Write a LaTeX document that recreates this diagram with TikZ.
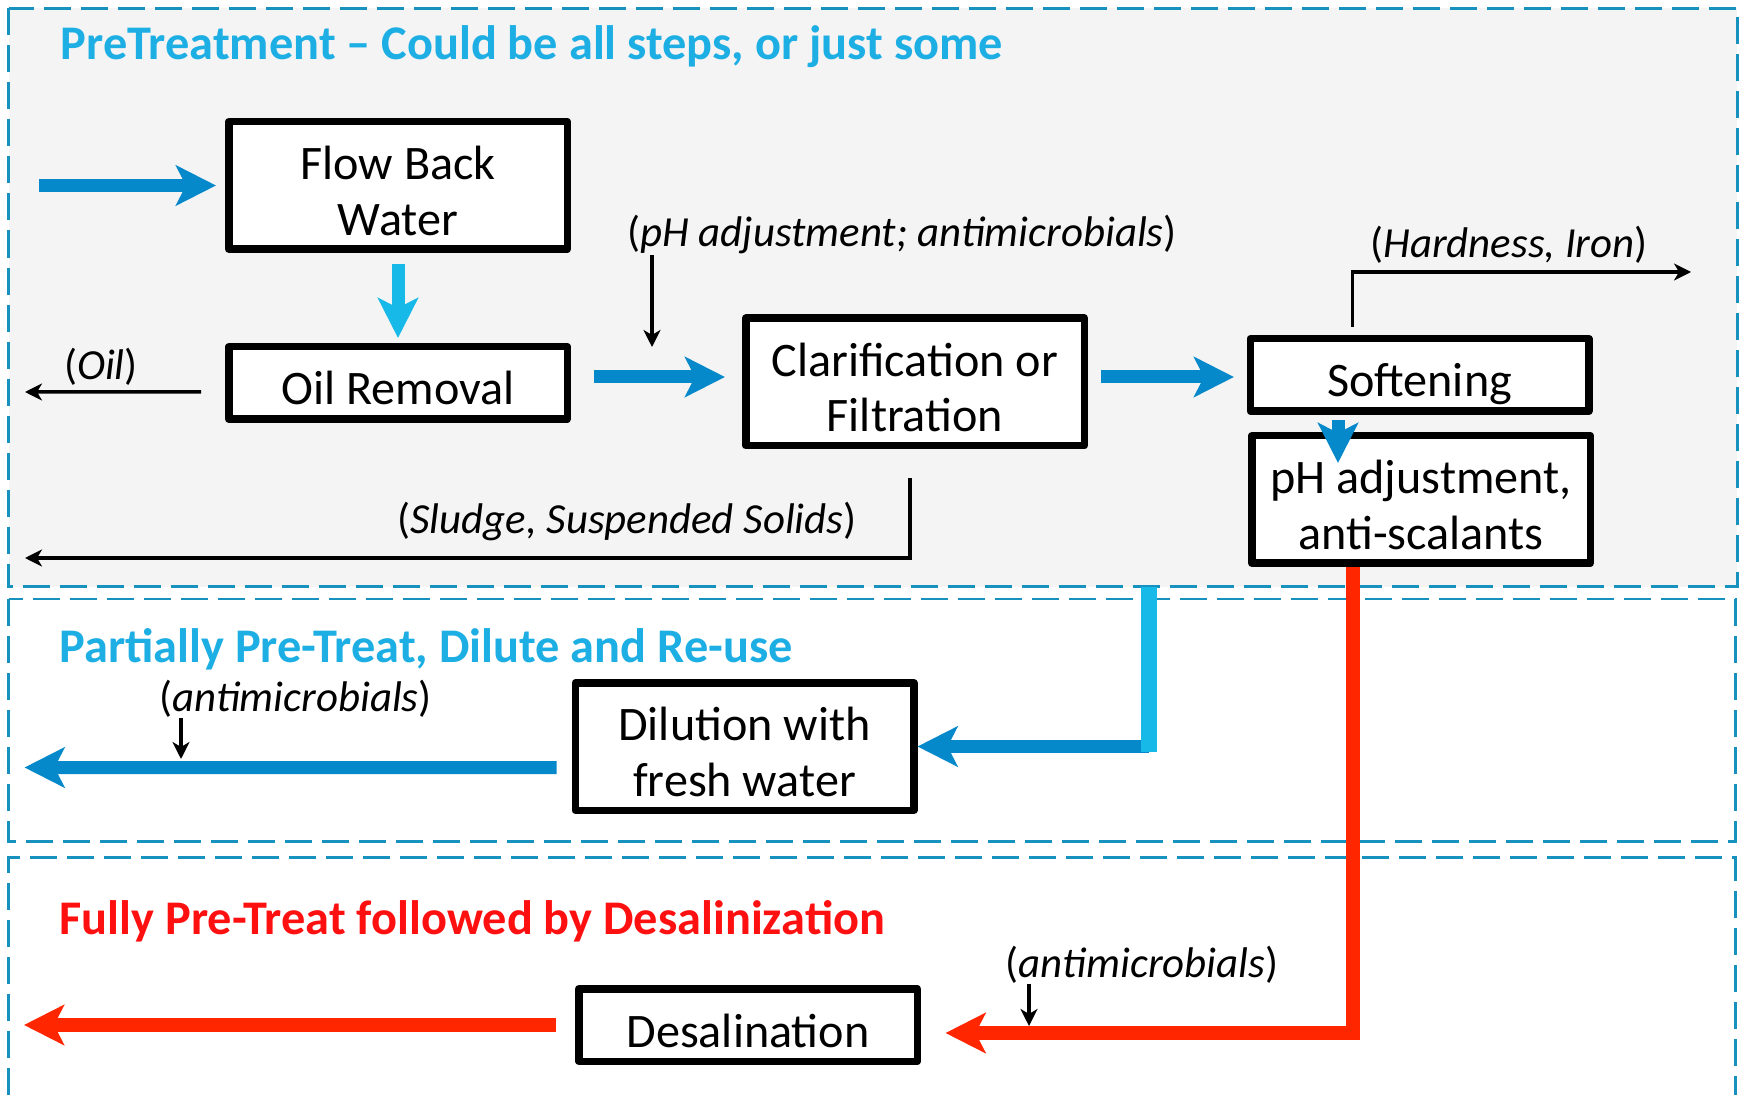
\documentclass[tikz,border=0pt]{standalone}
\usepackage{fontspec}
\setmainfont{Carlito}
\usetikzlibrary{arrows.meta}
\definecolor{panelgray}{HTML}{F4F4F4}
\definecolor{panelline}{HTML}{1791BE}
\definecolor{titlecyan}{HTML}{1DAEE4}
\definecolor{flowblue}{HTML}{0589CB}
\definecolor{flowcyan}{HTML}{16B9E8}
\definecolor{flowred}{HTML}{FF2600}
\definecolor{titlered}{HTML}{FF1010}
\tikzset{
  stage/.style={draw, line width=.075cm, line join=round, fill=white, minimum width=3.385cm, inner sep=0pt, align=center, font=\fontsize{13.7}{15.8}\selectfont, text depth=0pt},
  twoline/.style={stage, minimum height=1.275cm, text height=.997cm},
  oneline/.style={stage, minimum height=.725cm, text height=.44cm},
  lab/.style={inner sep=0pt, anchor=base, font=\fontsize{12.2}{14}\selectfont},
  headline/.style={inner sep=0pt, anchor=base west, font=\fontsize{13.75}{15.6}\selectfont\bfseries},
  panel/.style={draw=panelline, line width=.03cm, dash pattern=on .27cm off .1cm},
  fatblue/.style={draw=flowblue, line width=.13cm, -{Stealth[length=.4cm, width=.4cm, inset=.1cm, fill=flowblue]}},
  fatcyan/.style={fatblue, draw=flowcyan, -{Stealth[length=.4cm, width=.4cm, inset=.1cm, fill=flowcyan]}},
  fatred/.style={draw=flowred, line width=.14cm, -{Stealth[length=.4cm, width=.4cm, inset=.1cm, fill=flowred]}},
  thinarrow/.style={line width=.035cm, -{Stealth[length=.17cm, width=.17cm, inset=.05cm]}}
}
\begin{document}
\begin{tikzpicture}[x=1cm, y=-1cm]
\fill[white] (0,0) rectangle (17.44,10.95);
\useasboundingbox (0,0) rectangle (17.44,10.95);
\draw[panel, fill=panelgray] (0.09,0.085) rectangle (17.37,5.87);
\draw[panel] (0.09,5.99) rectangle (17.35,8.41);
\draw[panel] (0.09,10.95) |- (17.35,8.57) -- (17.35,10.95);

\node[headline, text=titlecyan] (pretitle) at (0.60,0.60) {PreTreatment – Could be all steps, or just some};
\node[headline, text=titlecyan] (parttitle) at (0.59,6.62) {Partially Pre-Treat, Dilute and Re-use};
\node[headline, text=titlered] (fulltitle) at (0.59,9.34) {Fully Pre-Treat followed by Desalinization};

\node[twoline] (flow) at (3.98,1.855) {Flow Back\\Water};
\node[oneline] (oil) at (3.98,3.83) {Oil Removal};
\node[twoline] (clar) at (9.15,3.82) {Clarification or\\Filtration};
\node[oneline] (soft) at (14.195,3.75) {Softening};
\node[twoline] (phadj) at (14.21,4.995) {pH adjustment,\\anti-scalants};
\node[twoline] (dil) at (7.445,7.465) {Dilution with\\fresh water};
\node[oneline] (desal) at (7.48,10.25) {Desalination};

\node[lab] (oillab) at (1.01,3.80) {(\textit{Oil})};
\node[lab] (phlab) at (9.02,2.47) {(\textit{pH adjustment; antimicrobials})};
\node[lab] (hardlab) at (15.09,2.58) {(\textit{Hardness, Iron})};
\node[lab] (sludgelab) at (6.27,5.33) {(\textit{Sludge, Suspended Solids})};
\node[lab] (amlab) at (2.955,7.11) {(\textit{antimicrobials})};
\node[lab] (amlabred) at (11.42,9.77) {(\textit{antimicrobials})};

\path
(0.39,1.855) coordinate (inflow)
(0.25,3.92) coordinate (oilout)
(0.25,5.58) coordinate (sludgeout)
(16.91,2.72) coordinate (hardout)
(6.52,3.47) coordinate (phin)
(11.49,5.87) coordinate (tap)
(0.245,7.675) coordinate (dilout)
(1.81,7.59) coordinate (amin)
(10.29,10.26) coordinate (aminred)
(0.24,10.25) coordinate (desalout)
;

\draw[fatblue, shorten >=.09cm] (inflow) -- (flow.west);
\draw[fatcyan, shorten <=.11cm, shorten >=.05cm] (flow) -- (oil);
\draw[fatblue, shorten <=.23cm, shorten >=.17cm] ([yshift=.06cm]oil.east) -- ([yshift=.06cm]oil.east -| clar.west);
\draw[fatblue, shorten <=.13cm, shorten >=.125cm] ([yshift=.05cm]clar.east) -- ([yshift=.05cm]clar.east -| soft.west);
\draw[fatblue] ([xshift=-.815cm,yshift=-.05cm]soft.south) -- ++(0,.43);
\draw[thinarrow] ([xshift=-.67cm,yshift=.08cm]soft.north) |- (hardout);
\draw[thinarrow] (phlab.south -| phin) -- (phin);
\draw[thinarrow, shorten <=.24cm] ([yshift=-.09cm]oil.west) -- (oilout);
\draw[thinarrow] ([xshift=-.05cm,yshift=-.29cm]clar.south) |- (sludgeout);

\draw[fatblue] (tap |- dil.east) -- (dil.east);
\draw[draw=flowcyan, line width=.16cm] (tap) -- ++(0,1.65);
\draw[fatblue, shorten <=.15cm] ([yshift=-.21cm]dil.west) -- (dilout);
\draw[thinarrow] (amlab.south -| amin) -- (amin);

\draw[fatred, shorten >=.245cm] ([xshift=-.68cm]phadj.south) |- ([yshift=-.08cm]desal.east);
\draw[fatred, shorten <=.19cm] (desal.west) -- (desalout);
\draw[thinarrow] (amlabred.south -| aminred) -- (aminred);
\end{tikzpicture}
\end{document}
